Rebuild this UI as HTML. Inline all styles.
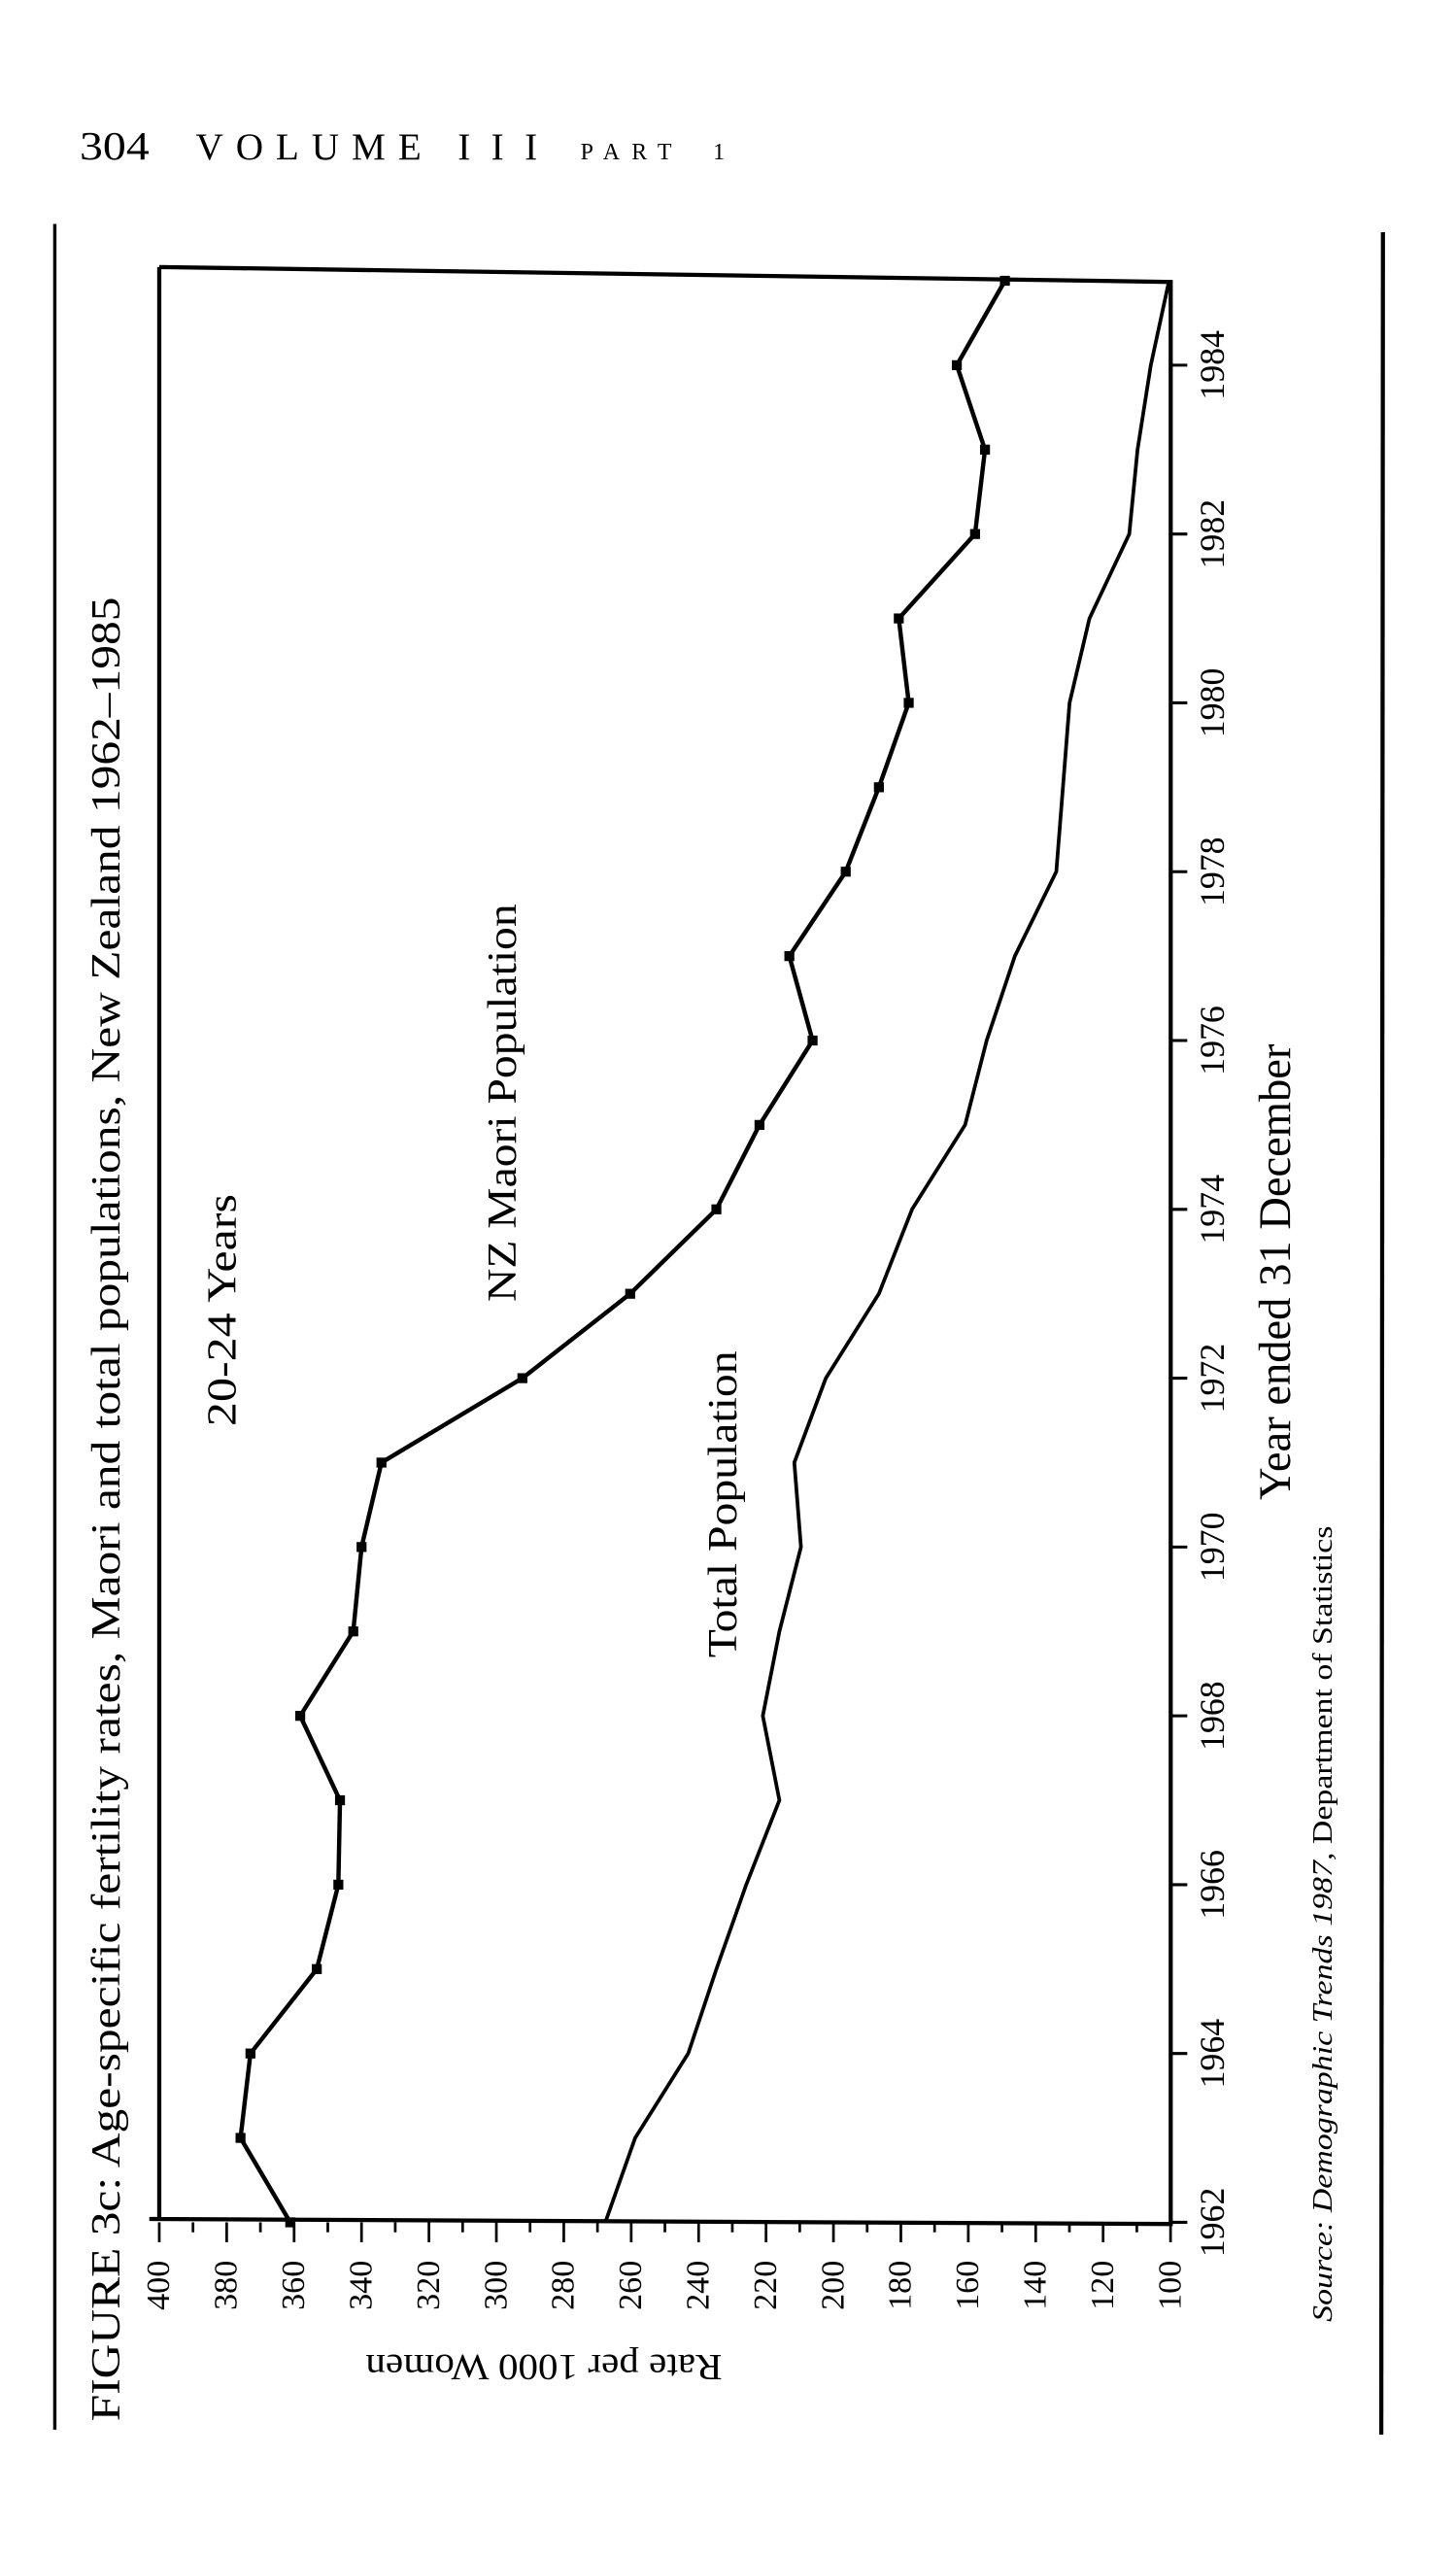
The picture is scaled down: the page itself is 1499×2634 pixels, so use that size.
<!DOCTYPE html>
<html><head><meta charset="utf-8"><style>
html,body{margin:0;padding:0;background:#fff}
svg{display:block}
text{font-family:"Liberation Serif",serif;fill:#000}
</style></head><body>
<svg width="1499" height="2634" viewBox="0 0 878 1543" xmlns="http://www.w3.org/2000/svg">
<text x="48" y="96" font-size="24" textLength="42" lengthAdjust="spacingAndGlyphs">304</text>
<text x="118" y="96" font-size="23" textLength="142" lengthAdjust="spacing" letter-spacing="6">VOLUME</text>
<text x="276" y="96" font-size="23" textLength="48" lengthAdjust="spacing">III</text>
<text x="350" y="96" font-size="14" textLength="55" lengthAdjust="spacing">PART</text>
<text x="430" y="96" font-size="14">1</text>
<line x1="33" y1="135" x2="33" y2="1465" stroke="#000" stroke-width="2"/>
<line x1="834" y1="140" x2="833" y2="1468" stroke="#000" stroke-width="2.5"/>
<polyline points="96,161 706,170 706,1341 90,1338 96,1338 96,161" fill="none" stroke="#000" stroke-width="2.5"/>
<g stroke="#000" stroke-width="1.6" id="vt"></g>
<g id="yt"></g>
<polyline id="maori" fill="none" stroke="#000" stroke-width="2.6" stroke-linejoin="round"/>
<polyline id="total" fill="none" stroke="#000" stroke-width="2.2" stroke-linejoin="round"/>
<g id="marks"></g>
<text transform="translate(72,910) rotate(-90)" text-anchor="middle" font-size="25" textLength="1100" lengthAdjust="spacingAndGlyphs">FIGURE 3c: Age-specific fertility rates, Maori and total populations, New Zealand 1962–1985</text>
<text transform="translate(328,1420) rotate(180)" text-anchor="middle" font-size="22" textLength="215" lengthAdjust="spacingAndGlyphs">Rate per 1000 Women</text>
<text transform="translate(778,767) rotate(-90)" text-anchor="middle" font-size="27" textLength="275" lengthAdjust="spacingAndGlyphs">Year ended 31 December</text>
<text transform="translate(803,1160) rotate(-90)" text-anchor="middle" font-size="17" textLength="480" lengthAdjust="spacingAndGlyphs"><tspan font-style="italic">Source: Demographic Trends 1987,</tspan> Department of Statistics</text>
<text transform="translate(142,790) rotate(-90)" text-anchor="middle" font-size="25" textLength="140" lengthAdjust="spacingAndGlyphs">20-24 Years</text>
<text transform="translate(311,665) rotate(-90)" text-anchor="middle" font-size="25" textLength="240" lengthAdjust="spacingAndGlyphs">NZ Maori Population</text>
<text transform="translate(444,907) rotate(-90)" text-anchor="middle" font-size="25" textLength="185" lengthAdjust="spacingAndGlyphs">Total Population</text>
</svg>
<script>
var ns="http://www.w3.org/2000/svg";
function X(v){return 96+(400-v)*2.033;}
function Y(yr){return 1340-(yr-1962)*50.9;}
var vt=document.getElementById('vt'),yt=document.getElementById('yt');
for(var v=400;v>=100;v-=10){var l=document.createElementNS(ns,'line');var x=X(v);l.setAttribute('x1',x);l.setAttribute('x2',x);l.setAttribute('y1',1340);l.setAttribute('y2',v%20==0?1352:1346);vt.appendChild(l);
if(v%20==0){var t=document.createElementNS(ns,'text');t.setAttribute('transform','translate('+(x+6)+',1378) rotate(-90)');t.setAttribute('text-anchor','middle');t.setAttribute('font-size','20');t.textContent=v;yt.appendChild(t);}}
for(var yr=1962;yr<=1984;yr+=2){var y=Y(yr);var l=document.createElementNS(ns,'line');l.setAttribute('x1',706);l.setAttribute('x2',716);l.setAttribute('y1',y);l.setAttribute('y2',y);l.setAttribute('stroke','#000');l.setAttribute('stroke-width','1.8');vt.appendChild(l);
var t=document.createElementNS(ns,'text');t.setAttribute('transform','translate('+738+','+y+') rotate(-90)');t.setAttribute('text-anchor','middle');t.setAttribute('font-size','21');t.textContent=yr;yt.appendChild(t);}
var mx=[175,145,151,191,204,205,181,213,218,230,315,380,432,458,490,476,510,530,548,542,588,594,577,606];
var tx=[365,383,415,432,450,470,460,470,483,479,498,530,550,582,595,612,637,641,645,657,681,686,694,705];
var mp=[],tp=[],mk=document.getElementById('marks');
for(var i=0;i<24;i++){var y=Y(1962+i);mp.push(mx[i]+','+y);tp.push(tx[i]+','+y);
var r=document.createElementNS(ns,'rect');r.setAttribute('x',mx[i]-3);r.setAttribute('y',y-3);r.setAttribute('width',6);r.setAttribute('height',6);mk.appendChild(r);}
document.getElementById('maori').setAttribute('points',mp.join(' '));
document.getElementById('total').setAttribute('points',tp.join(' '));
</script>
</body></html>
